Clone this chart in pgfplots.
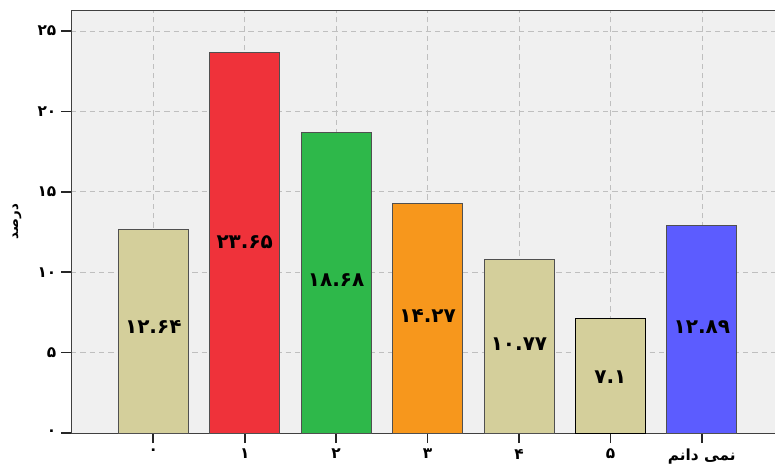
\documentclass[border=0pt]{standalone}
\usepackage{fontspec}
\usepackage{pgfplots}
\pgfplotsset{compat=1.18}
\TeXXeTstate=1
\newfontfamily\fa[Script=Arabic]{DejaVu Sans}
\definecolor{khaki}{RGB}{212,207,155}
\definecolor{bred}{RGB}{239,50,58}
\definecolor{bgreen}{RGB}{46,184,74}
\definecolor{borange}{RGB}{247,151,28}
\definecolor{bblue}{RGB}{92,92,255}
\definecolor{edge}{RGB}{80,80,80}
\pgfplotsset{layers/mylayers/.define layer set={axis background,axis grid,main,axis ticks,axis lines,axis tick labels,axis descriptions,axis foreground}{}}
\begin{document}
\begin{tikzpicture}
\begin{axis}[
  set layers=mylayers,
  scale only axis,
  width=528pt, height=317.25pt,
  xmin=-0.9, xmax=6.8, ymin=0, ymax=26.31,
  axis background/.style={fill=gray!12},
  axis line style={black!75},
  tick pos=left, tick align=outside,
  major tick length=7.5pt,
  major tick style={draw=none},
  xtick={0,1,2,3,4,5,6},
  xticklabels={{\fa ۰},{\fa ۱},{\fa ۲},{\fa ۳},{\fa ۴},{\fa ۵},{\fa\beginR نمی دانم\endR}},
  ytick={0,5,10,15,20,25},
  yticklabels={{\fa ۰},{\fa ۵},{\fa ۱۰},{\fa ۱۵},{\fa ۲۰},{\fa ۲۵}},
  ticklabel style={font=\fa\bfseries\fontsize{11.5}{12}\selectfont},
  xticklabel style={yshift=-1pt},
  ymajorgrids, xmajorgrids,
  major grid style={draw=gray!50, dash pattern=on 4pt off 3pt, line width=0.5pt},
  extra x ticks={0,1,2,3,4,5,6},
  extra y ticks={0,5,10,15,20,25},
  extra x tick labels={},
  extra y tick labels={},
  extra y tick style={grid=none, tick align=outside, major tick style={draw=black!85, solid, line width=1.2pt}},
  extra x tick style={grid=none, tick align=outside, xtick pos=left, major tick length=7.5pt, major tick style={draw=black!85, solid, line width=1.2pt}},
  ylabel={\fa\beginR درصد\endR},
  ylabel style={font=\fa\bfseries\fontsize{10}{12}\selectfont, at={(rel axis cs:0,0.5)}, anchor=center, yshift=40.5pt},
  clip=false,
]
\addplot[ybar, bar width=0.765, fill=khaki, draw=edge, line width=0.7pt] coordinates {(0,12.64)};
\addplot[ybar, bar width=0.765, fill=bred, draw=edge, line width=0.7pt] coordinates {(1,23.65)};
\addplot[ybar, bar width=0.765, fill=bgreen, draw=edge, line width=0.7pt] coordinates {(2,18.68)};
\addplot[ybar, bar width=0.765, fill=borange, draw=edge, line width=0.7pt] coordinates {(3,14.27)};
\addplot[ybar, bar width=0.765, fill=khaki, draw=edge, line width=0.7pt] coordinates {(4,10.77)};
\addplot[ybar, bar width=0.765, fill=khaki, draw=black, line width=0.7pt] coordinates {(5,7.1)};
\addplot[ybar, bar width=0.765, fill=bblue, draw=edge, line width=0.7pt] coordinates {(6,12.89)};
\addplot[draw=none, mark=none, nodes near coords, point meta=explicit symbolic,
  nodes near coords style={anchor=center, font=\fa\bfseries\fontsize{15}{16}\selectfont, text=black}]
  coordinates {(0,6.6) [۱۲.۶۴] (1,11.9) [۲۳.۶۵] (2,9.5) [۱۸.۶۸] (3,7.3) [۱۴.۲۷] (4,5.5) [۱۰.۷۷] (5,3.45) [۷.۱] (6,6.6) [۱۲.۸۹]};
\end{axis}
\pgfresetboundingbox
\path ([xshift=-53.25pt,yshift=-24.75pt]current axis.south west) rectangle ([yshift=7.5pt]current axis.north east);
\end{tikzpicture}
\end{document}
